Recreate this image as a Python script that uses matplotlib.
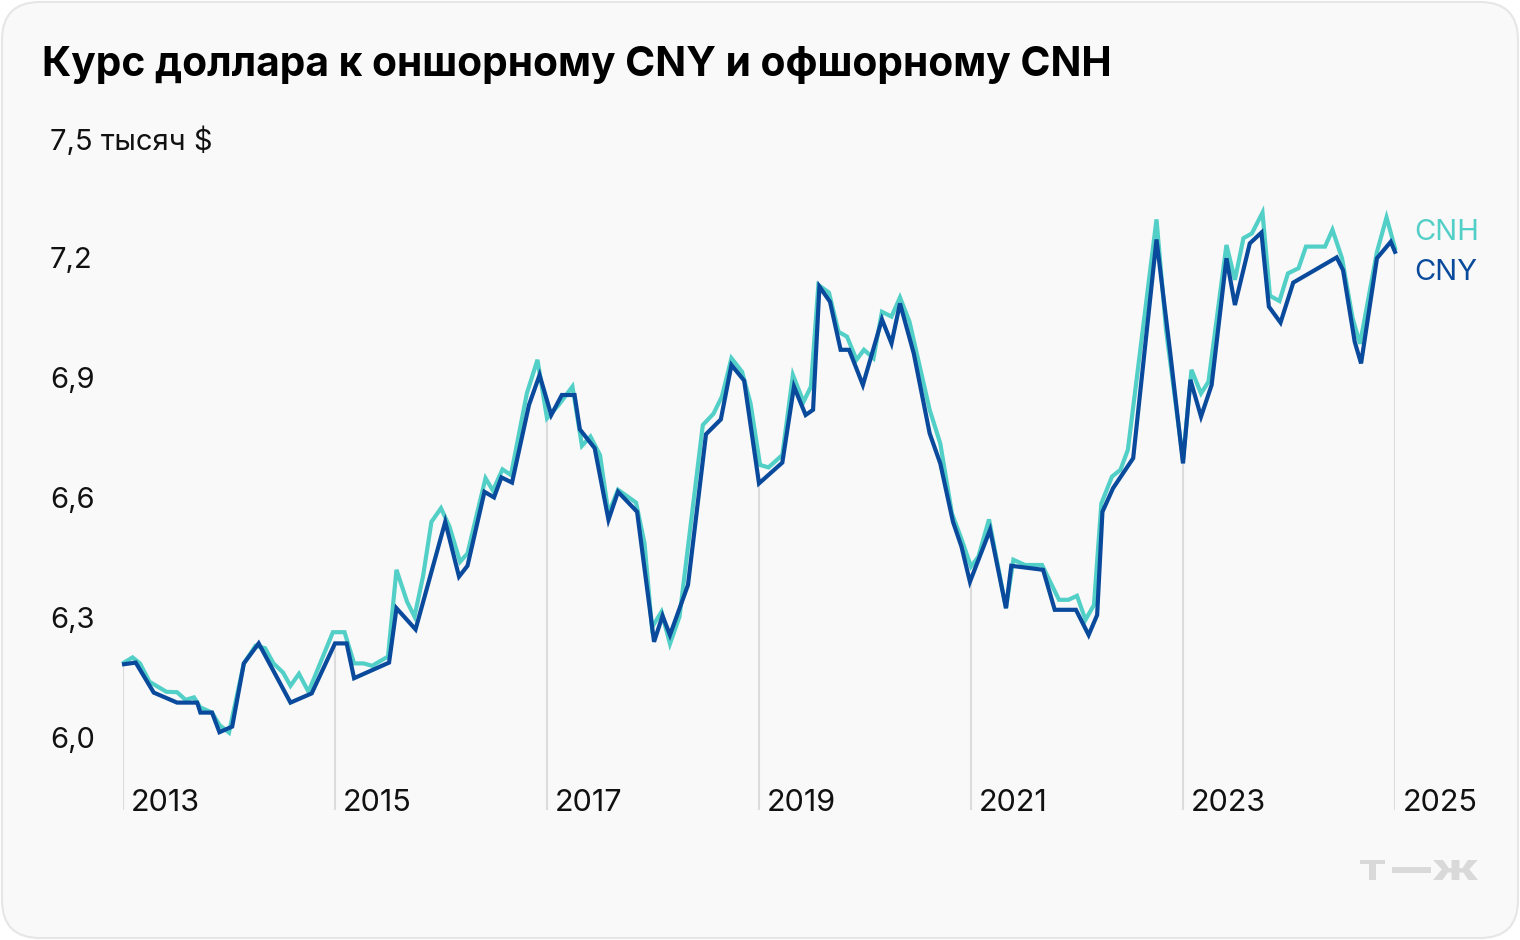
import numpy as np
import matplotlib
matplotlib.use("Agg")
import matplotlib.pyplot as plt
from matplotlib.patches import FancyBboxPatch, PathPatch
from matplotlib.textpath import TextPath
from matplotlib.font_manager import FontProperties
import matplotlib.transforms as mtransforms

plt.rcParams['font.family'] = ['Inter', 'DejaVu Sans']

# dates as decimal years, values in yuan per dollar
t_cny = [2013.01, 2013.12, 2013.29, 2013.51, 2013.70, 2013.73, 2013.84, 2013.91,
         2014.03, 2014.14, 2014.28, 2014.58, 2014.78, 2015.00, 2015.11, 2015.18,
         2015.51, 2015.58, 2015.76, 2016.04, 2016.17, 2016.25, 2016.41, 2016.50,
         2016.57, 2016.67, 2016.83, 2016.93, 2017.04, 2017.14, 2017.26, 2017.31,
         2017.45, 2017.58, 2017.67, 2017.85, 2018.01, 2018.09, 2018.16, 2018.33,
         2018.50, 2018.64, 2018.74, 2018.86, 2019.00, 2019.22, 2019.33, 2019.44,
         2019.51, 2019.57, 2019.67, 2019.77, 2019.85, 2019.98, 2020.16, 2020.25,
         2020.33, 2020.46, 2020.61, 2020.71, 2020.83, 2020.91, 2020.99, 2021.18,
         2021.33, 2021.38, 2021.68, 2021.79, 2021.99, 2022.11, 2022.19, 2022.24,
         2022.34, 2022.53, 2022.75, 2022.88, 2023.00, 2023.07, 2023.17, 2023.27,
         2023.41, 2023.49, 2023.63, 2023.74, 2023.81, 2023.92, 2024.04, 2024.45,
         2024.51, 2024.62, 2024.68, 2024.83, 2024.96, 2025.00]
cny = [6.187, 6.191, 6.116, 6.091, 6.091, 6.066, 6.066, 6.017,
       6.031, 6.189, 6.239, 6.091, 6.114, 6.239, 6.239, 6.152,
       6.191, 6.327, 6.274, 6.543, 6.406, 6.433, 6.618, 6.604,
       6.654, 6.641, 6.835, 6.910, 6.810, 6.860, 6.860, 6.774,
       6.727, 6.548, 6.618, 6.568, 6.243, 6.308, 6.260, 6.385,
       6.762, 6.799, 6.935, 6.896, 6.639, 6.691, 6.881, 6.810,
       6.823, 7.131, 7.093, 6.973, 6.973, 6.885, 7.049, 6.989,
       7.089, 6.964, 6.764, 6.689, 6.543, 6.481, 6.393, 6.523,
       6.327, 6.433, 6.423, 6.323, 6.323, 6.260, 6.310, 6.568,
       6.627, 6.702, 7.249, 6.964, 6.689, 6.898, 6.806, 6.885,
       7.202, 7.085, 7.239, 7.266, 7.081, 7.041, 7.141, 7.204,
       7.172, 6.993, 6.939, 7.202, 7.243, 7.218]

t_cnh = [2013.01, 2013.09, 2013.16, 2013.25, 2013.41, 2013.51, 2013.59, 2013.67,
         2013.73, 2013.84, 2013.91, 2014.00, 2014.14, 2014.25, 2014.34, 2014.42,
         2014.51, 2014.58, 2014.66, 2014.75, 2014.98, 2015.09, 2015.18, 2015.27,
         2015.35, 2015.50, 2015.58, 2015.68, 2015.75, 2015.83, 2015.91, 2016.00,
         2016.08, 2016.18, 2016.25, 2016.34, 2016.42, 2016.49, 2016.58, 2016.66,
         2016.81, 2016.91, 2017.00, 2017.11, 2017.24, 2017.33, 2017.41, 2017.50,
         2017.58, 2017.67, 2017.84, 2017.92, 2017.99, 2018.08, 2018.16, 2018.25,
         2018.47, 2018.57, 2018.65, 2018.74, 2018.84, 2018.92, 2019.01, 2019.09,
         2019.22, 2019.32, 2019.42, 2019.49, 2019.56, 2019.66, 2019.75, 2019.83,
         2019.92, 2019.99, 2020.08, 2020.16, 2020.25, 2020.33, 2020.42, 2020.61,
         2020.71, 2020.82, 2020.91, 2021.00, 2021.07, 2021.17, 2021.33, 2021.40,
         2021.51, 2021.67, 2021.83, 2021.92, 2022.00, 2022.08, 2022.16, 2022.23,
         2022.33, 2022.41, 2022.48, 2022.75, 2022.84, 2023.00, 2023.08, 2023.17,
         2023.24, 2023.41, 2023.49, 2023.57, 2023.65, 2023.75, 2023.82, 2023.91,
         2023.99, 2024.09, 2024.16, 2024.34, 2024.41, 2024.50, 2024.60, 2024.67,
         2024.83, 2024.92, 2025.00]
cnh = [6.191, 6.204, 6.189, 6.143, 6.118, 6.117, 6.098, 6.104,
       6.079, 6.066, 6.035, 6.016, 6.189, 6.233, 6.227, 6.189,
       6.166, 6.133, 6.163, 6.118, 6.267, 6.267, 6.189, 6.189,
       6.183, 6.206, 6.423, 6.343, 6.306, 6.406, 6.543, 6.577,
       6.531, 6.443, 6.464, 6.564, 6.652, 6.621, 6.674, 6.660,
       6.864, 6.948, 6.802, 6.835, 6.881, 6.733, 6.756, 6.710,
       6.564, 6.623, 6.591, 6.489, 6.279, 6.318, 6.238, 6.306,
       6.785, 6.813, 6.856, 6.952, 6.918, 6.839, 6.685, 6.679,
       6.710, 6.910, 6.843, 6.881, 7.135, 7.116, 7.018, 7.006,
       6.948, 6.973, 6.952, 7.068, 7.056, 7.104, 7.043, 6.823,
       6.739, 6.564, 6.500, 6.431, 6.456, 6.549, 6.327, 6.448,
       6.435, 6.435, 6.348, 6.348, 6.358, 6.298, 6.335, 6.589,
       6.656, 6.673, 6.723, 7.299, 7.023, 6.698, 6.923, 6.864,
       6.893, 7.235, 7.148, 7.252, 7.264, 7.316, 7.108, 7.095,
       7.164, 7.177, 7.231, 7.231, 7.273, 7.202, 7.052, 6.988,
       7.218, 7.304, 7.227]

years = [2013, 2015, 2017, 2019, 2021, 2023, 2025]
yticks = [6.0, 6.3, 6.6, 6.9, 7.2, 7.5]
ylabels = ["6,0", "6,3", "6,6", "6,9", "7,2", "7,5 тысяч $"]

CNH_COLOR = "#52cfc6"
CNY_COLOR = "#0a4a9c"
W, H = 1520, 940
FS = 21


def glyph_box(fig, s, x0, x1, ytop, ybot, color):
    """draw string s stretched into a pixel box (top-left origin)"""
    tp = TextPath((0, 0), s, size=10, prop=FontProperties(family="Inter", weight="black"))
    bb = tp.get_extents()
    sx = (x1 - x0) / bb.width
    sy = (ybot - ytop) / bb.height
    tr = (mtransforms.Affine2D().translate(-bb.x0, -bb.y0).scale(sx, sy)
          .translate(x0, H - ybot))
    fig.patches.append(PathPatch(tr.transform_path(tp), transform=None,
                                 facecolor=color, edgecolor="none", zorder=5))


fig = plt.figure(figsize=(W / 100, H / 100), dpi=100)
fig.patch.set_facecolor("white")
card = FancyBboxPatch((2 / W, 2 / H), 1 - 4 / W, 1 - 4 / H,
                      boxstyle="round,pad=0,rounding_size=0.025",
                      transform=fig.transFigure, facecolor="#f9f9f9",
                      edgecolor="#e6e6e6", linewidth=1.5, mutation_aspect=W / H,
                      zorder=-10)
fig.patches.append(card)

# axes placed so that 2013 -> px 123, 2025 -> px 1395, 6.0 -> py 739, 7.5 -> py 139
ymin = 6.0 - (810 - 739) / 400
ax = fig.add_axes([123 / W, (H - 810) / H, (1395 - 123) / W, (810 - 139) / H])
ax.set_xlim(2013, 2025)
ax.set_ylim(ymin, 7.5)
ax.axis("off")

tops = np.interp(years, t_cny, cny)
ax.vlines(years, ymin, tops, color="#dcdcdc", lw=1.5, zorder=1)

ax.plot(t_cnh, cnh, color=CNH_COLOR, lw=3, zorder=2, clip_on=False,
        solid_joinstyle="miter")
ax.plot(t_cny, cny, color=CNY_COLOR, lw=3, zorder=3, clip_on=False,
        solid_joinstyle="miter")

# y labels, left aligned at px 50
ytrans = mtransforms.offset_copy(
    mtransforms.blended_transform_factory(fig.transFigure, ax.transData),
    fig=fig, x=0, y=-2, units="dots")
for v, lab in zip(yticks, ylabels):
    ax.text(50 / W, v, lab, transform=ytrans, ha="left", va="center",
            fontsize=FS, color="#111111")

# year labels to the right of the gridlines
xoff = mtransforms.offset_copy(ax.transData, fig=fig, x=8, y=7, units="dots")
for yr in years:
    ax.text(yr, ymin, str(yr), transform=xoff, ha="left", va="center",
            fontsize=22, color="#111111")

# series labels
loff = mtransforms.offset_copy(ax.transData, fig=fig, x=19, y=-2, units="dots")
ax.text(2025, 7.27, "CNH", transform=loff, ha="left", va="center",
        fontsize=FS, color=CNH_COLOR)
ax.text(2025, 7.17, "CNY", transform=loff, ha="left", va="center",
        fontsize=FS, color=CNY_COLOR)

fig.text(42 / W, 1 - 65 / H, "Курс доллара к оншорному CNY и офшорному CNH",
         ha="left", va="center", fontsize=29.3, fontweight="bold", color="#000000")

# logo
glyph_box(fig, "Т", 1360, 1385, 860, 880, "#d9d9d9")
glyph_box(fig, "—", 1392, 1431, 867, 873, "#d9d9d9")
glyph_box(fig, "Ж", 1433, 1478, 860, 880, "#d9d9d9")

fig.savefig("out.png", dpi=100, facecolor=fig.get_facecolor())
